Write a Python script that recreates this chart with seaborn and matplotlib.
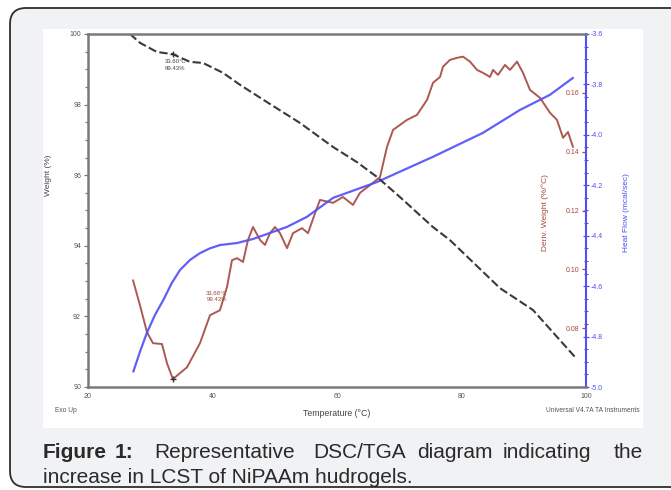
import matplotlib
matplotlib.use("Agg")
import numpy as np
import pandas as pd
import matplotlib.pyplot as plt
import seaborn as sns
from matplotlib.patches import FancyBboxPatch, Rectangle
from matplotlib.ticker import MultipleLocator, FormatStrFormatter, FixedLocator

# ---------------- data ----------------
temp_w = [26.75, 28.35, 31.08, 33.60, 36.39, 38.47, 41.69, 44.42, 48.76, 54.06,
          59.36, 63.21, 66.43, 70.12, 75.42, 78.15, 86.18, 91.49, 98.23]
weight = [100.00, 99.75, 99.49, 99.43, 99.21, 99.18, 98.90, 98.56, 98.07, 97.48,
          96.80, 96.37, 95.95, 95.38, 94.53, 94.16, 92.80, 92.18, 90.85]

temp_d = [27.23, 28.35, 29.48, 30.44, 31.89, 32.69, 33.65, 33.98, 35.90, 37.99,
          39.60, 41.20, 42.33, 43.13, 43.94, 44.90, 45.70, 46.51, 47.63, 48.43,
          49.24, 50.04, 50.84, 51.97, 52.93, 54.38, 55.34, 56.47, 57.27, 59.36,
          60.96, 62.57, 63.69, 65.78, 66.91, 68.03, 69.00, 71.24, 72.85, 74.46,
          75.42, 76.55, 77.03, 78.15, 79.28, 80.24, 81.37, 82.49, 83.45, 84.58,
          85.06, 85.86, 86.99, 87.79, 88.92, 89.88, 91.00, 92.61, 94.22, 95.34,
          96.31, 97.11, 97.91]
deriv = [0.0963, 0.0878, 0.0786, 0.0749, 0.0746, 0.0681, 0.0626, 0.0633, 0.0667, 0.0749,
         0.0844, 0.0861, 0.0940, 0.1031, 0.1038, 0.1025, 0.1100, 0.1144, 0.1100, 0.1083,
         0.1123, 0.1144, 0.1123, 0.1072, 0.1123, 0.1140, 0.1123, 0.1191, 0.1236, 0.1226,
         0.1246, 0.1219, 0.1260, 0.1294, 0.1314, 0.1416, 0.1474, 0.1508, 0.1525, 0.1576,
         0.1634, 0.1654, 0.1689, 0.1712, 0.1719, 0.1723, 0.1706, 0.1678, 0.1668, 0.1654,
         0.1678, 0.1661, 0.1695, 0.1678, 0.1706, 0.1668, 0.1610, 0.1583, 0.1532, 0.1508,
         0.1447, 0.1467, 0.1416]

temp_h = [27.28, 28.35, 29.43, 30.76, 32.10, 33.45, 34.78, 36.39, 37.99, 39.60,
          41.20, 43.94, 46.51, 49.24, 51.97, 55.18, 59.36, 66.43, 75.42, 83.45,
          89.40, 94.22, 97.91]
heat = [-4.939, -4.860, -4.787, -4.714, -4.655, -4.588, -4.536, -4.496, -4.469, -4.450,
        -4.437, -4.429, -4.413, -4.389, -4.365, -4.325, -4.250, -4.187, -4.087, -3.992,
        -3.901, -3.841, -3.774]

x_ticks = [20, 40, 60, 80, 100]
w_ticks = [90, 92, 94, 96, 98, 100]
d_ticks = [0.08, 0.10, 0.12, 0.14, 0.16]
h_ticks = [-5.0, -4.8, -4.6, -4.4, -4.2, -4.0, -3.8, -3.6]

# ---------------- style ----------------
sns.set_style("white")
plt.rcParams["font.family"] = ["Liberation Sans", "DejaVu Sans"]
plt.rcParams["axes.unicode_minus"] = False

GRAY = "#7a7a7a"
TXT = "#555555"
BROWN = "#a4473f"
BLUE = "#4f4ff5"
BLACK = "#3a3a3a"

W, H = 671, 490
fig = plt.figure(figsize=(W / 100, H / 100), dpi=100)
fig.patch.set_facecolor("white")

# background card and white chart panel (pixel coordinates)
bg = fig.add_axes([0, 0, 1, 1], zorder=-10)
bg.set_xlim(0, W)
bg.set_ylim(H, 0)
bg.axis("off")
bg.add_patch(FancyBboxPatch((10, 8), 720, 479,
                            boxstyle="round,pad=0,rounding_size=16",
                            fc="#f1f2f4", ec="#2e2e2e", lw=1.3))
bg.add_patch(Rectangle((43, 29), 600, 399, fc="white", ec="none"))

# caption (justified first line)
cap_fs = 15.0
CAP = "#2a2a2a"
bg.text(43, 458, "Figure", fontsize=cap_fs, fontweight="bold", color=CAP,
        ha="left", va="baseline")
bg.text(115, 458, "1:", fontsize=cap_fs, fontweight="bold", color=CAP,
        ha="left", va="baseline")
for word, xw in [("Representative", 154), ("DSC/TGA", 313), ("diagram", 417),
                 ("indicating", 503)]:
    bg.text(xw, 458, word, fontsize=cap_fs, color=CAP, ha="left", va="baseline")
bg.text(643, 458, "the", fontsize=cap_fs, color=CAP, ha="right", va="baseline")
bg.text(43, 483, "increase in LCST of NiPAAm hudrogels.", fontsize=cap_fs,
        color=CAP, ha="left", va="baseline")

bg.text(55, 410, "Exo Up", fontsize=4.8, color=TXT, ha="left", va="center")
bg.text(640, 410, "Universal V4.7A TA Instruments", fontsize=4.8, color=TXT,
        ha="right", va="center")

# ---------------- axes ----------------
L, R, T, B = 88, 586, 34, 387
ax1 = fig.add_axes([L / W, 1 - B / H, (R - L) / W, (B - T) / H])
ax1.set_facecolor("none")
ax2 = ax1.twinx()
ax3 = ax1.twinx()

sns.lineplot(x=temp_h, y=heat, ax=ax3, color=BLUE, lw=1.6, sort=False,
             estimator=None, alpha=0.9)
sns.lineplot(x=temp_d, y=deriv, ax=ax2, color=BROWN, lw=1.4, sort=False,
             estimator=None, alpha=0.9)
sns.lineplot(x=temp_w, y=weight, ax=ax1, color=BLACK, lw=1.5, sort=False,
             estimator=None, linestyle=(0, (4, 1.6)))

ax1.set_zorder(3)
ax1.patch.set_visible(False)

# markers and annotations
ax1.plot([temp_w[3]], [weight[3]], marker="+", color="#333333", ms=5, mew=1)
ax1.text(32.4, 99.28, "33.60°C\n99.43%", fontsize=4.3, color="#444444",
         ha="left", va="top", linespacing=1.3)
ax2.plot([33.65], [0.0626], marker="+", color="#333333", ms=5, mew=1)
ax1.text(39.0, 92.72, "33.68°C\n99.43%", fontsize=4.3, color=BROWN,
         ha="left", va="top", linespacing=1.3)

# limits
ax1.set_xlim(20, 100)
ax1.set_ylim(90, 100)
ax2.set_ylim(0.06, 0.18)
ax3.set_ylim(-5.0, -3.6)

# ax1 (weight / temperature)
ax1.xaxis.set_major_locator(FixedLocator(x_ticks))
ax1.xaxis.set_minor_locator(MultipleLocator(5))
ax1.yaxis.set_major_locator(FixedLocator(w_ticks))
ax1.yaxis.set_minor_locator(MultipleLocator(0.5))
for s in ["left", "bottom", "top"]:
    ax1.spines[s].set_color(GRAY)
    ax1.spines[s].set_linewidth(1.8)
ax1.spines["right"].set_visible(False)
ax1.tick_params(axis="both", which="major", labelsize=5, colors=GRAY,
                labelcolor=TXT, length=3, width=0.9, direction="inout", pad=3)
ax1.tick_params(axis="both", which="minor", colors=GRAY, length=2.2, width=0.9,
                direction="inout")
ax1.tick_params(axis="y", which="both", direction="out", pad=2)
ax1.set_xlabel("Temperature (°C)", fontsize=6.3, color="#444444", va="center")
ax1.xaxis.set_label_coords(0.5, (B - 413) / (B - T))
ax1.set_ylabel("Weight (%)", fontsize=6, color="#444444", va="center")
ax1.yaxis.set_label_coords((48 - L) / (R - L), (B - 175) / (B - T))

# ax2 (derivative weight) - ticks on the right spine, labels inside the plot
for s in ax2.spines.values():
    s.set_visible(False)
ax2.spines["left"].set_position(("axes", 1.0))
ax2.yaxis.set_ticks_position("left")
ax2.yaxis.set_major_locator(FixedLocator(d_ticks))
ax2.yaxis.set_major_formatter(FormatStrFormatter("%.2f"))
ax2.tick_params(axis="y", which="major", labelsize=5, colors=BROWN,
                labelcolor=BROWN, length=3, width=0.9, direction="out", pad=1.5)
ax2.set_ylabel("Deriv. Weight (%/°C)", fontsize=6, color=BROWN, va="center")
ax2.yaxis.set_label_coords((545 - L) / (R - L), (B - 213) / (B - T))

# ax3 (heat flow)
for s in ["left", "top", "bottom"]:
    ax3.spines[s].set_visible(False)
ax3.spines["right"].set_color(BLUE)
ax3.spines["right"].set_linewidth(1.5)
ax3.yaxis.set_major_locator(FixedLocator(h_ticks))
ax3.yaxis.set_minor_locator(MultipleLocator(0.05))
ax3.yaxis.set_major_formatter(FormatStrFormatter("%.1f"))
ax3.tick_params(axis="y", which="major", labelsize=5, colors=BLUE,
                labelcolor=BLUE, length=4, width=0.9, direction="inout", pad=1.5)
ax3.tick_params(axis="y", which="minor", colors=BLUE, length=2.2, width=0.8,
                direction="inout")
ax3.set_ylabel("Heat Flow (mcal/sec)", fontsize=6, color=BLUE, va="center")
ax3.yaxis.set_label_coords((626 - L) / (R - L), (B - 213) / (B - T))

fig.savefig("out.png", dpi=100)
